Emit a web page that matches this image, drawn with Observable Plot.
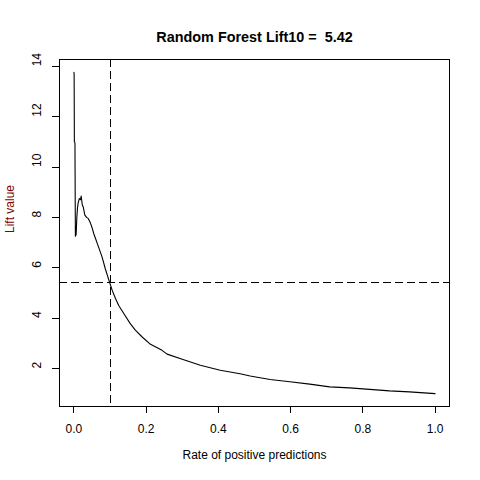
<!DOCTYPE html>
<html>
<head>
<meta charset="utf-8">
<script src="https://cdn.jsdelivr.net/npm/d3@7"></script>
<script src="https://cdn.jsdelivr.net/npm/@observablehq/plot@0.6"></script>
<style>
  html, body { margin: 0; padding: 0; background: #fff; }
  #chart { width: 480px; height: 480px; }
</style>
</head>
<body>
<div id="chart"></div>
<script>
// Data
const rate = [0.0000, 0.0005, 0.0012, 0.0018, 0.0028, 0.0040, 0.0050, 0.0060, 0.0080, 0.0100, 0.0120, 0.0150, 0.0180, 0.0200, 0.0230, 0.0260, 0.0300, 0.0350, 0.0400, 0.0450, 0.0500, 0.0550, 0.0600, 0.0650, 0.0700, 0.0780, 0.0870, 0.0970, 0.1060, 0.1150, 0.1240, 0.1380, 0.1560, 0.1700, 0.1890, 0.2120, 0.2440, 0.2580, 0.3000, 0.3500, 0.4050, 0.4600, 0.4880, 0.5430, 0.5980, 0.6530, 0.7080, 0.7630, 0.8190, 0.8740, 0.9290, 1.0000];
const lift = [13.76, 13.70, 11.00, 11.00, 10.95, 7.25, 7.60, 7.30, 8.00, 8.40, 8.60, 8.75, 8.70, 8.85, 8.50, 8.40, 8.10, 8.00, 7.95, 7.80, 7.60, 7.35, 7.15, 6.95, 6.75, 6.42, 5.95, 5.50, 5.10, 4.78, 4.50, 4.18, 3.78, 3.52, 3.25, 2.96, 2.72, 2.57, 2.37, 2.13, 1.93, 1.79, 1.70, 1.56, 1.47, 1.38, 1.27, 1.23, 1.17, 1.11, 1.07, 1.00];
const xTicks = [0, 0.2, 0.4, 0.6, 0.8, 1.0];
const yTicks = [2, 4, 6, 8, 10, 12, 14];
const cutoffRate = 0.1;
const lift10 = 5.42;
const titleText = "Random Forest Lift10 = \u00a0" + lift10.toFixed(2);
const xLabel = "Rate of positive predictions";
const yLabel = "Lift value";

const points = rate.map((r, i) => ({rate: r, lift: lift[i]}));

const font = "'Liberation Sans', Arial, Helvetica, sans-serif";

const chart = Plot.plot({
  width: 480,
  height: 480,
  marginLeft: 59,
  marginRight: 31,
  marginTop: 59,
  marginBottom: 74,
  style: {fontFamily: font, fontSize: "12px", background: "#fff", color: "#000"},
  x: {domain: [-0.04, 1.04]},
  y: {domain: [0.49, 14.27]},
  marks: [
    Plot.frame({stroke: "#000", strokeWidth: 1, shapeRendering: "crispEdges"}),
    Plot.axisX({ticks: xTicks, tickSize: 7, tickPadding: 11, tickFormat: d3.format(".1f"), label: null, fontSize: 12, stroke: "#000", fill: "#000", shapeRendering: "crispEdges"}),
    Plot.axisY({ticks: yTicks, tickSize: 7, tickFormat: () => "", label: null, stroke: "#000", shapeRendering: "crispEdges"}),
    Plot.text(yTicks, {y: d => d, text: d => String(d), frameAnchor: "left", dx: -22, rotate: -90, fontSize: 12, fill: "#000"}),
    Plot.ruleX([cutoffRate], {stroke: "#000", strokeDasharray: "8,4", strokeWidth: 1, shapeRendering: "crispEdges"}),
    Plot.ruleY([lift10], {stroke: "#000", strokeDasharray: "8,4", strokeWidth: 1, shapeRendering: "crispEdges"}),
    Plot.line(points, {x: "rate", y: "lift", stroke: "#000", strokeWidth: 1.1}),
    Plot.text([titleText], {text: d => d, frameAnchor: "top", dy: -28, fontSize: 14.4, fontWeight: "bold", fill: "#000"}),
    Plot.text([xLabel], {text: d => d, frameAnchor: "bottom", dy: 52, fontSize: 12, fill: "#000"}),
    Plot.text([yLabel], {text: d => d, frameAnchor: "left", dx: -49, rotate: -90, fontSize: 12, fill: "#800000"})
  ]
});
document.getElementById("chart").appendChild(chart);
</script>
</body>
</html>
